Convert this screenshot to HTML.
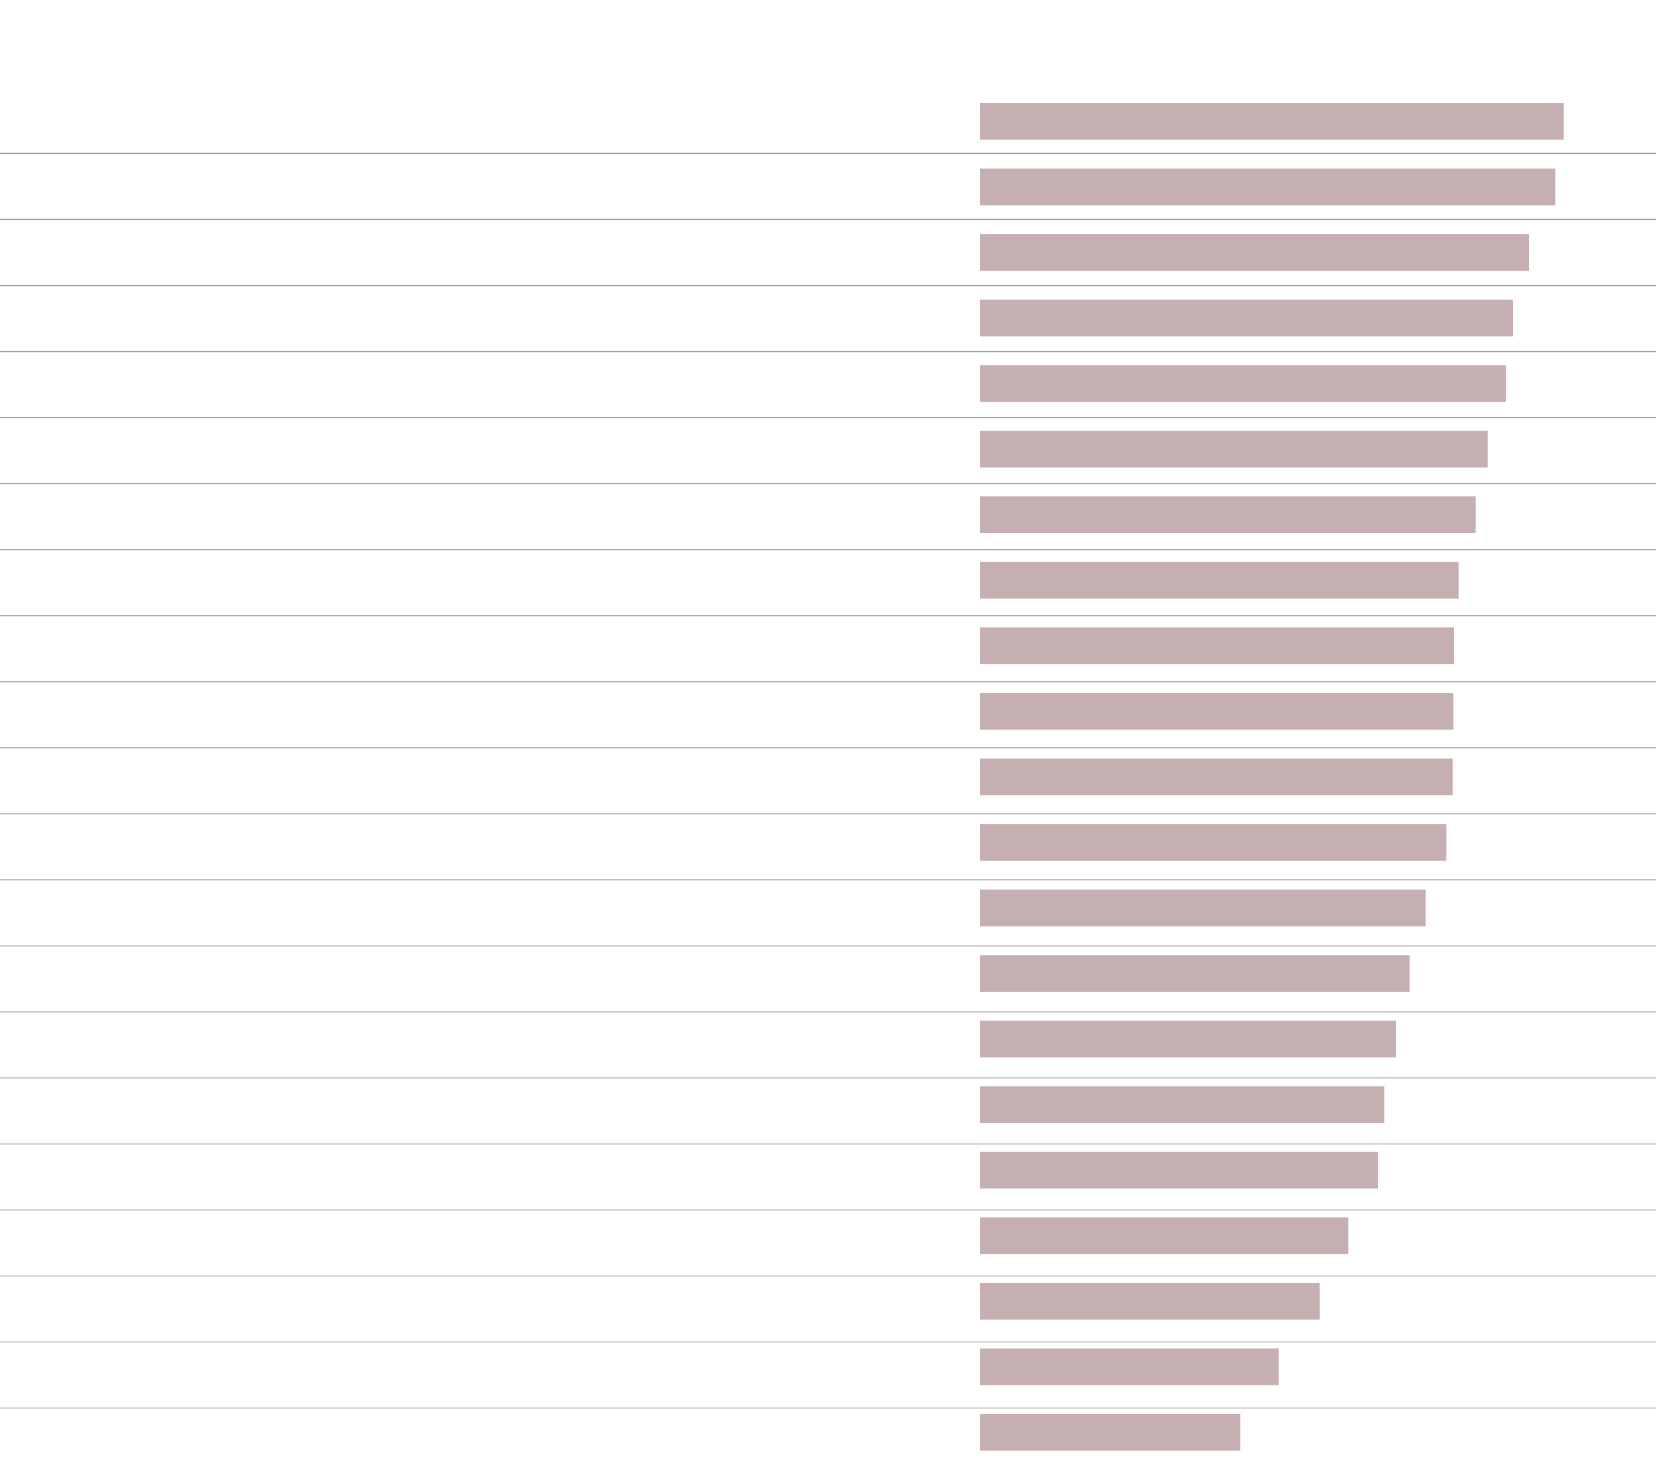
<!DOCTYPE html>
<html>
<head>
<meta charset="utf-8">
<style>
  html, body { margin: 0; padding: 0; background: #ffffff; }
  body { width: 1660px; height: 1472px; overflow: hidden; font-family: "Liberation Sans", sans-serif; }
  svg { display: block; }
</style>
</head>
<body>
<svg width="1660" height="1472" viewBox="0 0 1660 1472" xmlns="http://www.w3.org/2000/svg">
  <rect x="0" y="0" width="1660" height="1472" fill="#ffffff"/>
  <g id="lines">
    <rect x="0" y="152.8" width="1656" height="1.3" fill="#9c9c9c"/>
    <rect x="0" y="218.8" width="1656" height="1.3" fill="#9f9f9f"/>
    <rect x="0" y="284.9" width="1656" height="1.3" fill="#a2a2a2"/>
    <rect x="0" y="350.9" width="1656" height="1.3" fill="#a4a4a4"/>
    <rect x="0" y="416.9" width="1656" height="1.3" fill="#a7a7a7"/>
    <rect x="0" y="482.9" width="1656" height="1.3" fill="#aaaaaa"/>
    <rect x="0" y="549.0" width="1656" height="1.3" fill="#adadad"/>
    <rect x="0" y="615.0" width="1656" height="1.3" fill="#afafaf"/>
    <rect x="0" y="681.0" width="1656" height="1.3" fill="#b2b2b2"/>
    <rect x="0" y="747.1" width="1656" height="1.3" fill="#b5b5b5"/>
    <rect x="0" y="813.1" width="1656" height="1.3" fill="#b8b8b8"/>
    <rect x="0" y="879.1" width="1656" height="1.3" fill="#bababa"/>
    <rect x="0" y="945.2" width="1656" height="1.3" fill="#bdbdbd"/>
    <rect x="0" y="1011.2" width="1656" height="1.3" fill="#c0c0c0"/>
    <rect x="0" y="1077.2" width="1656" height="1.3" fill="#c2c2c2"/>
    <rect x="0" y="1143.3" width="1656" height="1.3" fill="#c4c4c4"/>
    <rect x="0" y="1209.3" width="1656" height="1.3" fill="#c6c6c6"/>
    <rect x="0" y="1275.3" width="1656" height="1.3" fill="#c8c8c8"/>
    <rect x="0" y="1341.3" width="1656" height="1.3" fill="#cacaca"/>
    <rect x="0" y="1407.4" width="1656" height="1.3" fill="#cbcbcb"/>
  </g>
  <g id="bars" fill="#c6afb1">
    <rect x="980" y="103.0" width="583.7" height="36.7"/>
    <rect x="980" y="168.6" width="575.3" height="36.7"/>
    <rect x="980" y="234.1" width="549.0" height="36.7"/>
    <rect x="980" y="299.7" width="533.0" height="36.7"/>
    <rect x="980" y="365.2" width="526.0" height="36.7"/>
    <rect x="980" y="430.8" width="507.7" height="36.7"/>
    <rect x="980" y="496.3" width="495.7" height="36.7"/>
    <rect x="980" y="561.9" width="478.7" height="36.7"/>
    <rect x="980" y="627.4" width="474.0" height="36.7"/>
    <rect x="980" y="693.0" width="473.3" height="36.7"/>
    <rect x="980" y="758.5" width="472.7" height="36.7"/>
    <rect x="980" y="824.1" width="466.3" height="36.7"/>
    <rect x="980" y="889.6" width="445.7" height="36.7"/>
    <rect x="980" y="955.2" width="429.7" height="36.7"/>
    <rect x="980" y="1020.7" width="416.0" height="36.7"/>
    <rect x="980" y="1086.3" width="404.3" height="36.7"/>
    <rect x="980" y="1151.8" width="398.0" height="36.7"/>
    <rect x="980" y="1217.4" width="368.3" height="36.7"/>
    <rect x="980" y="1282.9" width="339.7" height="36.7"/>
    <rect x="980" y="1348.5" width="298.7" height="36.7"/>
    <rect x="980" y="1414.0" width="260.3" height="36.7"/>
  </g>
</svg>
</body>
</html>
